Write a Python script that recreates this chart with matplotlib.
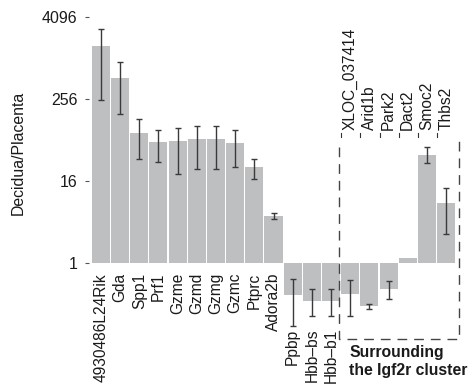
import numpy as np
import matplotlib
matplotlib.use('Agg')
import matplotlib.pyplot as plt

plt.rcParams['font.family'] = ['Liberation Sans', 'DejaVu Sans']

# gene names and Decidua/Placenta ratios
genes = ['4930486L24Rik', 'Gda', 'Spp1', 'Prf1', 'Gzme', 'Gzmd', 'Gzmg', 'Gzmc',
         'Ptprc', 'Adora2b', 'Ppbp', 'Hbb\u2013bs', 'Hbb\u2013b1',
         'XLOC_037414', 'Arid1b', 'Park2', 'Dact2', 'Smoc2', 'Thbs2']
ratio = [1552, 519, 81, 60, 62, 66, 66, 58, 26, 4.9,
         0.34, 0.28, 0.28, 0.35, 0.23, 0.41, 1.18, 39, 7.6]
err_hi = [2702, 891, 128, 91, 97, 104, 104, 91, 34, 5.4,
          0.58, 0.41, 0.41, 0.56, 0.25, 0.54, np.nan, 51, 12.6]
err_lo = [247, 154, 34, 30, 20.4, 24, 24, 26, 17, 4.4,
          0.117, 0.165, 0.165, 0.165, 0.21, 0.30, np.nan, 29, 2.66]
yticks = [1, 16, 256, 4096]
cluster_start = 13   # first gene surrounding the Igf2r cluster

x = np.arange(len(genes))
ratio = np.array(ratio)
yerr = np.array([ratio - np.array(err_lo), np.array(err_hi) - ratio])

fig = plt.figure(figsize=(4.7, 3.9), dpi=100)
ax = fig.add_axes([91.4 / 470, 0, (455.6 - 91.4) / 470, 1])
ax.set_yscale('log', base=2)
ax.set_ylim(2 ** -6.2, 2 ** 12.83)
ax.set_xlim(-0.5, len(genes) - 0.5)

ax.bar(x, ratio - 1, bottom=1, width=0.94, color='#bebfc1')
ax.errorbar(x, ratio, yerr=yerr, fmt='none', ecolor='#3a3a3a', elinewidth=1,
            capsize=2.3, capthick=1)

for s in ax.spines.values():
    s.set_visible(False)
ax.spines['left'].set_position(('outward', 2))
ax.set_xticks([])
ax.set_yticks(yticks)
ax.set_yticklabels([str(t) for t in yticks])
ax.yaxis.set_minor_locator(matplotlib.ticker.NullLocator())
ax.tick_params(axis='y', length=3, width=0.8, color='#555555', pad=5,
               labelsize=11.5, labelcolor='#1a1a1a')
fig.text(18 / 470, 1 - 153 / 390, 'Decidua/Placenta', rotation=90,
         ha='center', va='center', fontsize=11.4, color='#1a1a1a')

# gene labels
for i, g in enumerate(genes):
    if i >= cluster_start:
        ax.text(i, 2 ** 6.49, g, rotation=90, ha='center', va='bottom',
                fontsize=11.2, color='#1a1a1a')
        ax.plot([i - 0.47, i - 0.47], [2 ** 6.15, 2 ** 6.34], color='#333333',
                lw=0.8, clip_on=False)
    elif ratio[i] < 1:
        ax.text(i, 2 ** -3.22, g, rotation=90, ha='center', va='top',
                fontsize=11.2, color='#1a1a1a')
    else:
        ax.text(i, 2 ** -0.49, g, rotation=90, ha='center', va='top',
                fontsize=11.2, color='#1a1a1a')

# dashed box around the Igf2r cluster genes
bx0, bx1 = cluster_start - 0.58, len(genes) - 0.32
ax.plot([bx0, bx0, bx1, bx1], [2 ** 5.66, 2 ** -3.71, 2 ** -3.71, 2 ** 6.0],
        color='#444444', lw=1, dashes=(7, 5), clip_on=False)
ax.text(cluster_start - 0.06, 2 ** -4.0, 'Surrounding\nthe Igf2r cluster',
        ha='left', va='top', fontsize=11.3, fontweight='bold',
        color='#1a1a1a', linespacing=1.25)

fig.savefig('out.png', dpi=100, facecolor='white')
